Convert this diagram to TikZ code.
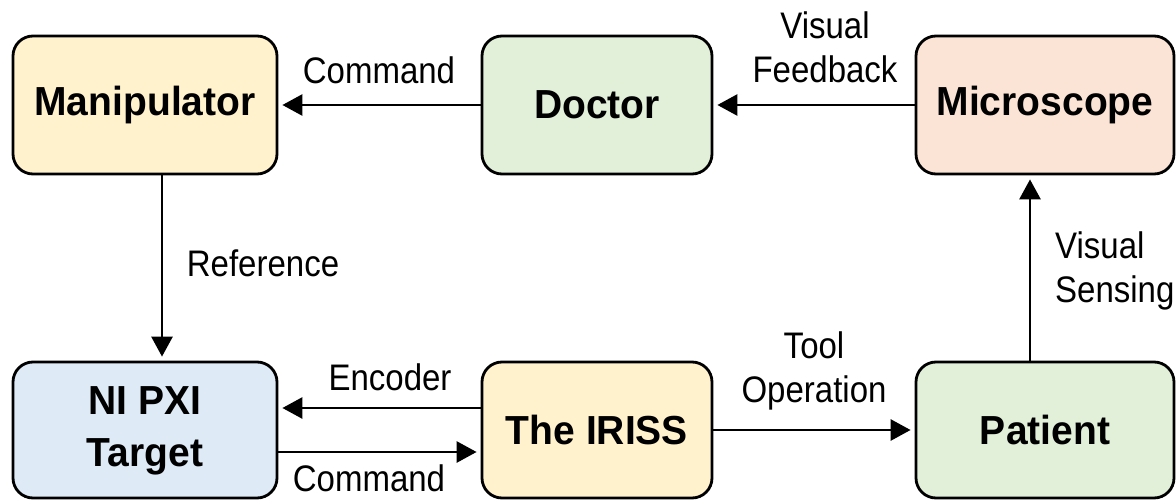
\documentclass[tikz,border=0pt]{standalone}
\usepackage{fontspec}
\usepackage{graphicx}
\setmainfont{Liberation Sans}
\usetikzlibrary{arrows.meta}
\definecolor{cyel}{HTML}{FFF2CC}
\definecolor{cgrn}{HTML}{E2EFD9}
\definecolor{cpeach}{HTML}{FBE4D5}
\definecolor{cblue}{HTML}{DEEAF6}
\newcommand{\tallc}[1]{\scalebox{1}[1.12]{\begin{tabular}{@{}c@{}}#1\end{tabular}}}
\newcommand{\talll}[1]{\scalebox{1}[1.12]{\begin{tabular}{@{}l@{}}#1\end{tabular}}}
\begin{document}
\begin{tikzpicture}[x=1pt,y=-1pt,
  box/.style={draw=black, line width=2.8pt, rounded corners=20pt, fill=#1,
    minimum height=138pt, align=center, inner sep=0pt,
    font=\fontsize{39}{50}\selectfont\bfseries},
  lbl/.style={font=\fontsize{33}{39}\selectfont, align=center, inner sep=0pt},
  arr/.style={line width=2.8pt, -{Triangle[length=20pt,width=21pt]}, shorten >=4pt}]
\useasboundingbox (0,0) rectangle (1176,500);
\node[box=cyel, minimum width=264pt] (manip) at (145,105) {\scalebox{1}[1.04]{Manipulator}};
\node[box=cgrn, minimum width=230pt] (doctor) at (597,105) {\scalebox{1}[1.04]{Doctor}};
\node[box=cpeach, minimum width=258pt] (micro) at (1045,105) {\scalebox{1}[1.04]{Microscope}};
\node[box=cblue, minimum width=264pt, minimum height=136pt] (ni) at (145,430) {\scalebox{1}[1.04]{\begin{tabular}{@{}c@{}}NI PXI\\Target\end{tabular}}};
\node[box=cyel, minimum width=230pt, minimum height=136pt] (iriss) at (597,430) {\scalebox{1}[1.04]{The IRISS}};
\node[box=cgrn, minimum width=258pt, minimum height=136pt] (patient) at (1045,430) {\scalebox{1}[1.04]{Patient}};

\draw[arr] (doctor.west) -- (manip.east);
\draw[arr] (micro.west) -- (doctor.east);
\draw[arr] ([xshift=17pt]manip.south) -- ([xshift=17pt]ni.north);
\draw[arr] ([yshift=22pt]iriss.west) -- ([yshift=22pt]ni.east);
\draw[arr] ([yshift=-22pt]ni.east) -- ([yshift=-22pt]iriss.west);
\draw[arr] (iriss.east) -- (patient.west);
\draw[arr] ([xshift=-15pt]patient.north) -- ([xshift=-15pt]micro.south);

\node[lbl] (l1) at (379,75) {\tallc{Command}};
\node[lbl] (l2) at (825,52) {\tallc{Visual\\Feedback}};
\node[lbl] (l3) at (263,268) {\tallc{Reference}};
\node[lbl] (l4) at (390,382) {\tallc{Encoder}};
\node[lbl] (l5) at (369,483) {\tallc{Command}};
\node[lbl] (l6) at (814,372) {\tallc{Tool\\Operation}};
\node[lbl, anchor=west] (l7) at (1055,272) {\talll{Visual\\Sensing}};
\end{tikzpicture}
\end{document}
